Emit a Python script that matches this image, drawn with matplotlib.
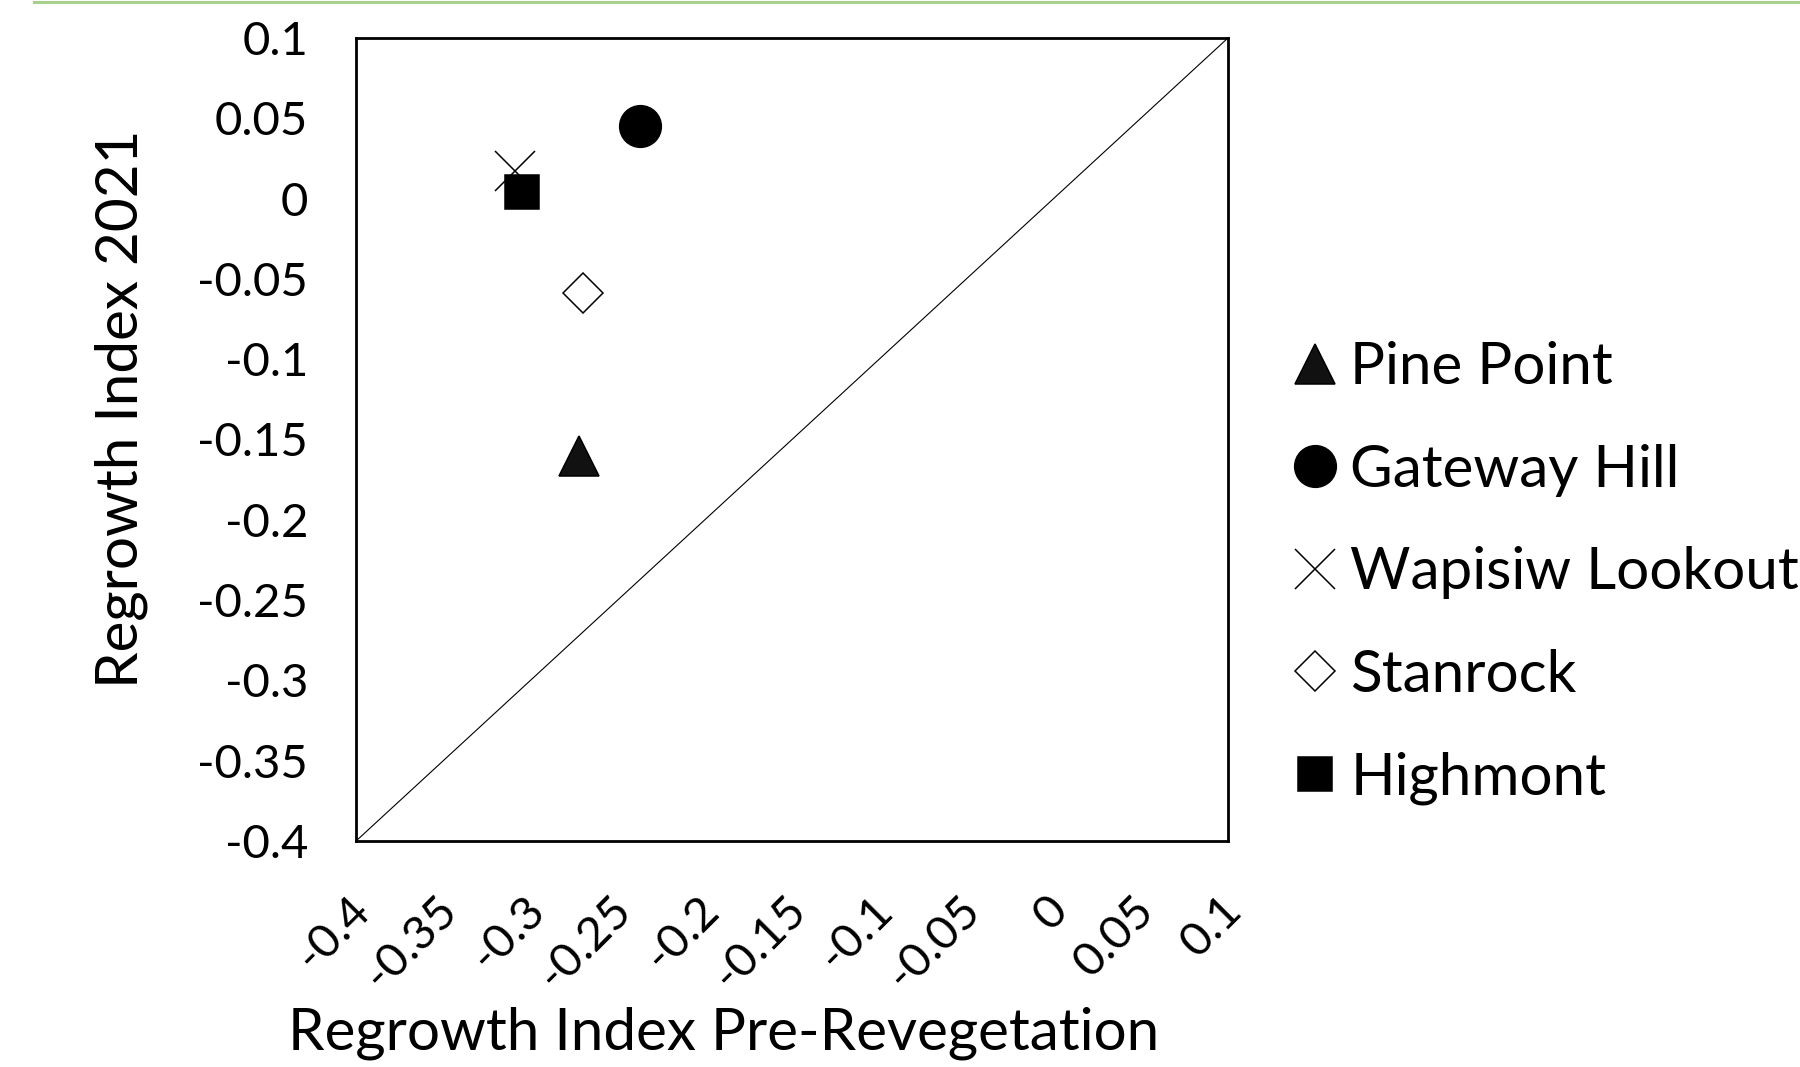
import numpy as np
import matplotlib.pyplot as plt
import matplotlib.transforms as mtransforms
from matplotlib.lines import Line2D

plt.rcParams['font.family'] = ['Lato', 'DejaVu Sans']

# data
sites = ['Pine Point', 'Gateway Hill', 'Wapisiw Lookout', 'Stanrock', 'Highmont']
pre_reveg = [-0.272, -0.237, -0.309, -0.270, -0.305]
index_2021 = [-0.160, 0.045, 0.017, -0.059, 0.004]

# marker styles per site
markers = ['^', 'o', 'x', 'D', 's']
msizes = [29, 30, 29, 20, 24]
faces = ['#111111', 'black', 'black', 'white', 'black']

ticks = [-0.4, -0.35, -0.3, -0.25, -0.2, -0.15, -0.1, -0.05, 0, 0.05, 0.1]
tick_labels = ['-0.4', '-0.35', '-0.3', '-0.25', '-0.2', '-0.15', '-0.1',
               '-0.05', '0', '0.05', '0.1']

fig = plt.figure(figsize=(18, 10.67), dpi=100)
ax = fig.add_axes([0.1978, 0.2118, 0.4844, 0.7526])

# 1:1 line
ax.plot([-0.4, 0.1], [-0.4, 0.1], color='black', lw=0.8, zorder=1)

for i in range(len(sites)):
    ax.plot(pre_reveg[i], index_2021[i], linestyle='none',
            marker=markers[i], markersize=msizes[i],
            markerfacecolor=faces[i], markeredgecolor='black',
            markeredgewidth=1.1, label=sites[i], zorder=3)

ax.set_xlim(-0.4, 0.1)
ax.set_ylim(-0.4, 0.1)
ax.set_xticks(ticks)
ax.set_yticks(ticks)
ax.set_yticklabels(tick_labels, fontsize=34)
ax.set_xticklabels(tick_labels, fontsize=34, rotation=45, ha='right',
                   va='center', rotation_mode='anchor')
ax.tick_params(axis='both', length=0)
ax.tick_params(axis='y', pad=34.5)
ax.tick_params(axis='x', pad=45)
offset = mtransforms.ScaledTranslation(7 / 100, 0, fig.dpi_scale_trans)
for lbl in ax.get_xticklabels():
    lbl.set_transform(lbl.get_transform() + offset)

for sp in ax.spines.values():
    sp.set_linewidth(2)
    sp.set_color('black')

ax.set_xlabel('Regrowth Index Pre-Revegetation', fontsize=42)
ax.xaxis.label.set_va('baseline')
ax.xaxis.set_label_coords(0.422, -0.260)
ax.set_ylabel('Regrowth Index 2021', fontsize=42)
ax.yaxis.label.set_va('center')
ax.yaxis.set_label_coords(-0.269, 0.538)

fig.legend(loc='center left', bbox_to_anchor=(0.7210, 0.4630),
           frameon=False, fontsize=42, handlelength=0.6, handletextpad=0.3,
           labelspacing=0.85, borderpad=0, borderaxespad=0)

# green rule at the top of the figure
fig.add_artist(Line2D([34 / 1800, 1.0], [1 - 1.5 / 1067, 1 - 1.5 / 1067],
                      transform=fig.transFigure, color='#a9d18e', lw=2.2))

fig.savefig('out.png', dpi=100)
